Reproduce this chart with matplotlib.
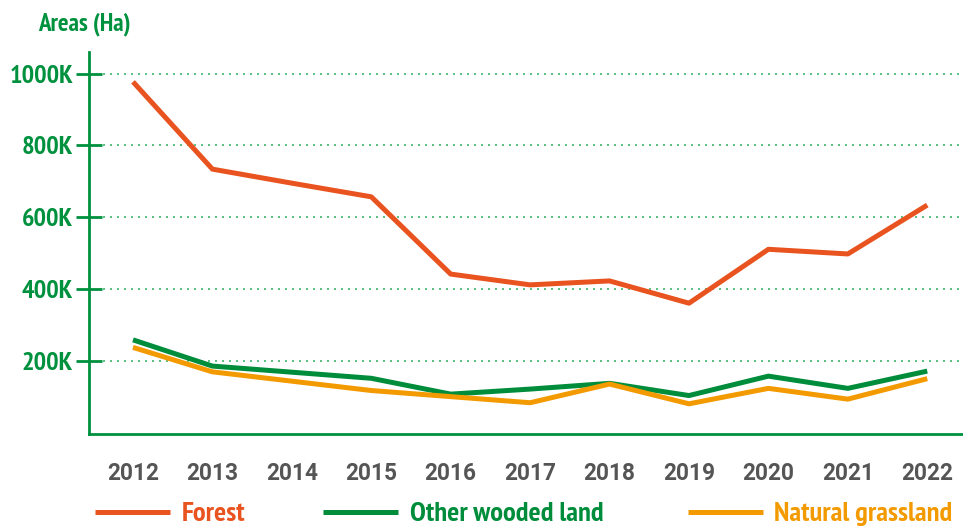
import matplotlib
matplotlib.use("Agg")
import matplotlib.pyplot as plt
from matplotlib.lines import Line2D

# data (thousand hectares)
years = [2012, 2013, 2014, 2015, 2016, 2017, 2018, 2019, 2020, 2021, 2022]
forest = [977, 734, 695, 657, 442, 412, 423, 361, 511, 498, 634]
other_wooded = [259, 186, 169, 152, 108, 122, 138, 104, 158, 124, 172]
natural_grass = [238, 170, 144, 118, 101, 84, 136, 81, 124, 94, 151]
y_ticks = [200, 400, 600, 800, 1000]

labels = ["Forest", "Other wooded land", "Natural grassland"]
colors = ["#E9531F", "#008D3B", "#F39A00"]
GREEN = "#00913F"
GREY = "#555555"

NARROW = ['PT Sans Narrow', 'DejaVu Sans']
YEARFONT = ['Roboto', 'DejaVu Sans']
plt.rcParams['font.family'] = NARROW

fig = plt.figure(figsize=(9.63, 5.27), dpi=100)
ax = fig.add_axes([89 / 963, 1 - 434 / 527, 874 / 963, 382 / 527])

for vals, c in zip([forest, other_wooded, natural_grass], colors):
    ax.plot(years, vals, color=c, lw=3.6, solid_capstyle='butt', zorder=3)

for t in y_ticks:
    ax.axhline(t, xmin=0.016, xmax=1, color="#3DB66B", lw=1.2,
               linestyle=(0, (1.2, 3)), zorder=1)

ax.set_xlim(2011.446, 2022.45)
ax.set_ylim(-3, 1060)
ax.set_yticks(y_ticks)
ax.set_yticklabels([f"{t}K" for t in y_ticks], color=GREEN, fontsize=19,
                   fontweight='bold', family=NARROW, va='center_baseline')
ax.set_xticks(years)
ax.set_xticklabels([str(y) for y in years], color=GREY, fontsize=16.3,
                   fontweight='bold', family=YEARFONT)

for s in ['top', 'right']:
    ax.spines[s].set_visible(False)
for s in ['left', 'bottom']:
    ax.spines[s].set_color(GREEN)
    ax.spines[s].set_linewidth(2)
ax.tick_params(axis='y', direction='inout', length=19, width=2, color=GREEN, pad=2)
ax.tick_params(axis='x', length=0, pad=20)

fig.text(38 / 963, 1 - 24 / 527, "Areas (Ha)", color=GREEN, fontsize=18,
         fontweight='bold', va='center', ha='left', family=NARROW)

# legend drawn by hand
leg_y = 1 - 512 / 527
line_x = [(95, 170), (323, 398), (688, 763)]
text_x = [182, 410, 774]
for (x0, x1), tx, lab, c in zip(line_x, text_x, labels, colors):
    fig.add_artist(Line2D([x0 / 963, x1 / 963], [leg_y, leg_y], color=c, lw=3.6,
                          solid_capstyle='butt', transform=fig.transFigure))
    fig.text(tx / 963, 1 - 514 / 527, lab, color=c, fontsize=20.5, fontweight='bold',
             va='center', ha='left', family=NARROW)

fig.savefig("out.png", dpi=100)
